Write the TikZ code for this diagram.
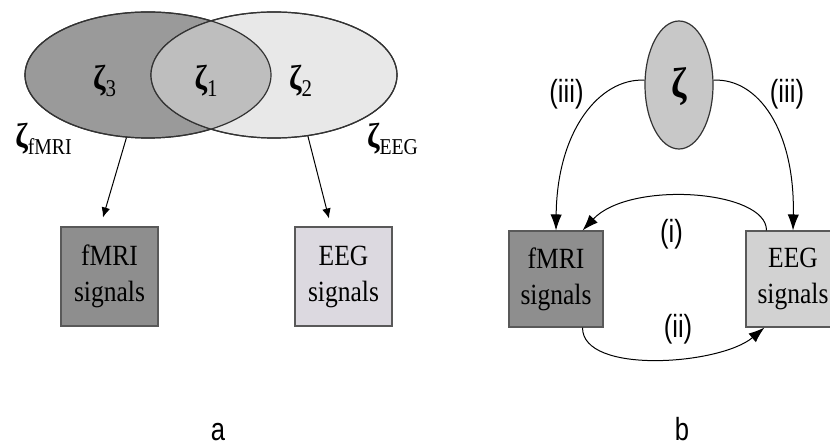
\documentclass[tikz,border=0pt]{standalone}
\usepackage{fontspec}
\setmainfont{Liberation Serif}[FakeStretch=0.87]
\newfontfamily\labelsans{Liberation Sans}[FakeStretch=0.8]
\usetikzlibrary{shapes.geometric,arrows.meta}

% bold zeta with a lowered index: #1 index, #2 index size (pt)
\newcommand\zbold{{\bfseries ζ}}
\newcommand\zidx[2]{\zbold\raisebox{-0.2em}{\fontsize{#2}{#2}\selectfont #1}}

\definecolor{gLeft}{HTML}{9A9A9A}
\definecolor{gMid}{HTML}{BEBEBE}
\definecolor{gRight}{HTML}{E8E8E8}
\definecolor{gDark}{HTML}{8E8E8E}
\definecolor{gLav}{HTML}{DCD9E0}
\definecolor{gLight}{HTML}{D2D2D2}
\definecolor{gZeta}{HTML}{C8C8C8}

\tikzset{
  venn/.style={ellipse, draw=black!80, line width=0.9pt, inner sep=0pt,
    minimum width=184.5pt, minimum height=94.5pt},
  sigbox/.style={rectangle, draw=black!65, line width=0.8pt, inner sep=0pt,
    align=center, font=\fontsize{22}{27}\selectfont},
  boxA/.style={sigbox, minimum width=72.75pt, minimum height=74.25pt},
  boxB/.style={sigbox, minimum width=70.5pt, minimum height=72pt},
  arrA/.style={-{Latex[length=7.5pt,width=6.5pt]}, line width=0.75pt},
  arrB/.style={-{Latex[length=12pt,width=8.5pt]}, line width=0.75pt},
  tag/.style={font=\labelsans\fontsize{24}{28}\selectfont, inner sep=0pt},
  ztag/.style={font=\fontsize{26}{28}\selectfont, inner sep=0pt, anchor=base},
}

\begin{document}
\begin{tikzpicture}[x=0.75pt,y=-0.75pt]
\useasboundingbox (0,0) rectangle (830,445);

% ---------- panel a: overlapping latent sources ----------
\node[venn, fill=gLeft]  (zf) at (148,75) {};
\node[venn, fill=gRight] (ze) at (274,75) {};
\begin{scope}
  \clip (148,75) ellipse [x radius=123, y radius=63];
  \fill[gMid] (274,75) ellipse [x radius=123, y radius=63];
\end{scope}
\draw[black!80, line width=0.9pt] (148,75) ellipse [x radius=123, y radius=63];
\draw[black!80, line width=0.9pt] (274,75) ellipse [x radius=123, y radius=63];

\node[ztag] (z3) at (104.5,90) {\zidx{3}{18}};
\node[ztag] (z1) at (206,90) {\zidx{1}{18}};
\node[ztag] (z2) at (300.5,90) {\zidx{2}{18}};
\node[ztag] (zfl) at (43.5,148) {\zidx{fMRI}{17}};
\node[ztag] (zel) at (392.5,148) {\zidx{EEG}{17}};

\node[boxA, fill=gDark] (fa) at (109.5,276.5) {fMRI\\signals};
\node[boxA, fill=gLav]  (ea) at (343.5,276.5) {EEG\\signals};

\draw[arrA] (zf.251) -- ([xshift=-4.9pt,yshift=6.75pt]fa.north);
\draw[arrA] (ze.299) -- ([xshift=-10.9pt,yshift=6pt]ea.north);

\node[tag, anchor=base] (la) at (218,440) {a};

% ---------- panel b: common source and cross-modal links ----------
\node[ellipse, draw=black!80, line width=0.9pt, fill=gZeta, inner sep=0pt,
      minimum width=51pt, minimum height=96pt] (zb) at (679,85) {};
\node[anchor=base, inner sep=0pt, font=\fontsize{32}{34}\selectfont] (zs) at (679.5,98) {\zbold};

\node[boxB, fill=gDark]  (fb) at (556,279) {fMRI\\signals};
\node[boxB, fill=gLight] (eb) at (793,279) {EEG\\signals};

\draw[arrB] (zb.172) .. controls (600,78) and (557,130) .. (fb.north);
\draw[arrB] (zb.8) .. controls (758,78) and (795,130) .. (eb.north);

\draw[arrB] ([xshift=15.75pt]eb.north west) .. controls (767,190) and (630,180)
  .. ([xshift=-15.75pt]fb.north east);
\draw[arrB] ([xshift=-15.75pt]fb.south east) .. controls (582,375) and (720,365)
  .. ([xshift=14.25pt]eb.south west);

\node[tag] (t3l) at (566.5,94) {(iii)};
\node[tag] (t3r) at (787,94) {(iii)};
\node[tag] (t1) at (671.5,234) {(i)};
\node[tag] (t2) at (678,329) {(ii)};

\node[tag, anchor=base] (lb) at (682,440) {b};
\end{tikzpicture}
\end{document}
